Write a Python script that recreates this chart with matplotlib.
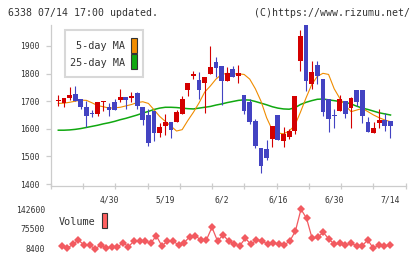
import matplotlib
matplotlib.use("Agg")
import matplotlib.pyplot as plt
from matplotlib.patches import Rectangle
import numpy as np

# ---------------- data ----------------
opens = [1700, 1695, 1712, 1726, 1707, 1678, 1658, 1654, 1698, 1678,
         1696, 1704, 1714, 1710, 1729, 1678, 1650, 1666, 1584, 1610,
         1626, 1626, 1653, 1741, 1792, 1777, 1765, 1797, 1842, 1828,
         1774, 1817, 1791, 1722, 1698, 1628, 1532, 1526, 1562, 1650,
         1557, 1569, 1592, 1847, 1990, 1762, 1831, 1780, 1707, 1650,
         1666, 1700, 1674, 1741, 1741, 1626, 1586, 1620, 1632, 1628]
closes = [1700, 1710, 1722, 1702, 1678, 1647, 1655, 1698, 1700, 1668,
          1668, 1714, 1704, 1720, 1684, 1632, 1550, 1584, 1608, 1626,
          1596, 1662, 1708, 1765, 1799, 1741, 1789, 1825, 1821, 1774,
          1803, 1789, 1803, 1666, 1626, 1538, 1466, 1493, 1610, 1559,
          1581, 1592, 1719, 1936, 1774, 1807, 1791, 1662, 1634, 1646,
          1708, 1652, 1710, 1698, 1648, 1590, 1602, 1632, 1611, 1611]
highs = [1722, 1710, 1752, 1755, 1707, 1702, 1668, 1698, 1700, 1692,
         1708, 1743, 1714, 1734, 1734, 1678, 1670, 1666, 1620, 1655,
         1626, 1668, 1718, 1765, 1810, 1807, 1789, 1900, 1861, 1828,
         1825, 1829, 1832, 1722, 1707, 1636, 1532, 1559, 1610, 1650,
         1605, 1601, 1719, 1958, 1995, 1846, 1847, 1780, 1707, 1671,
         1721, 1700, 1716, 1741, 1741, 1642, 1624, 1671, 1656, 1628]
lows = [1683, 1680, 1705, 1702, 1671, 1608, 1644, 1648, 1666, 1648,
        1668, 1696, 1672, 1698, 1672, 1614, 1538, 1557, 1572, 1578,
        1565, 1626, 1653, 1718, 1781, 1708, 1656, 1797, 1789, 1686,
        1774, 1789, 1767, 1652, 1616, 1532, 1439, 1487, 1535, 1559,
        1535, 1562, 1580, 1811, 1738, 1743, 1761, 1646, 1590, 1604,
        1666, 1640, 1604, 1683, 1622, 1590, 1586, 1604, 1592, 1568]
ma5 = [1692, 1693, 1696, 1700, 1704, 1703, 1694, 1684, 1680, 1675,
       1676, 1678, 1683, 1688, 1695, 1698, 1692, 1669, 1645, 1627,
       1610, 1592, 1597, 1630, 1660, 1694, 1733, 1755, 1780, 1797,
       1801, 1799, 1799, 1797, 1780, 1745, 1700, 1640, 1596, 1585,
       1582, 1592, 1612, 1660, 1712, 1760, 1790, 1801, 1797, 1745,
       1710, 1684, 1662, 1668, 1674, 1662, 1650, 1640, 1632, 1626]
ma25 = [1595, 1595, 1596, 1598, 1601, 1605, 1609, 1613, 1618, 1622,
        1627, 1633, 1638, 1644, 1650, 1657, 1663, 1670, 1675, 1678,
        1678, 1677, 1675, 1673, 1672, 1675, 1678, 1681, 1686, 1690,
        1695, 1699, 1703, 1705, 1704, 1699, 1693, 1687, 1680, 1675,
        1672, 1671, 1676, 1688, 1696, 1702, 1707, 1708, 1705, 1702,
        1699, 1696, 1690, 1682, 1675, 1670, 1664, 1658, 1654, 1650]
volume = [16250, 8400, 22060, 36740, 19670, 19670, 6000, 19670, 8400, 13860,
          11810, 27520, 13860, 33330, 33330, 33330, 25470, 51430, 16250, 33330,
          33330, 19670, 27520, 48010, 51430, 36740, 36740, 80110, 33330, 53820,
          33330, 22060, 17280, 42550, 22060, 36740, 34350, 22060, 27520, 22060,
          19670, 33330, 67480, 141580, 110850, 42550, 45960, 63040, 40160, 22060,
          25470, 19670, 25470, 17280, 17280, 36740, 8400, 19670, 16250, 19670]
date_labels = ["4/30", "5/19", "6/2", "6/16", "6/30", "7/14"]
date_label_idx = [9, 19, 29, 39, 49, 59]
price_ticks = [1400, 1500, 1600, 1700, 1800, 1900]
vol_ticks = [8400, 75500, 142600]
vol_tick_labels = ["8400", "75500", "142600"]

# ---------------- style ----------------
RED = "#d40000"
BLUE = "#4343c2"
ORANGE = "#f08c00"
GREEN = "#10a810"
VOLC = "#f25a60"
GRID = "#cccccc"
TXT = "#333333"
MONO = "DejaVu Sans Mono"

W, H = 420, 259
fig = plt.figure(figsize=(W / 100, H / 100), dpi=100)

def frac(l, t, r, b):
    return [l / W, 1 - b / H, (r - l) / W, (b - t) / H]

ax = fig.add_axes(frac(50.7, 25, 405.7, 185.7))
xs = np.arange(len(opens))
ax.set_xlim(-1.35, 61.7)
ax.set_ylim(1394, 1976)

ax.plot(xs, ma25, color=GREEN, lw=1.1, zorder=2)
ax.plot(xs, ma5, color=ORANGE, lw=0.8, zorder=2)

o = np.array(opens); c = np.array(closes)
cols = [RED if cc >= oo else BLUE for oo, cc in zip(o, c)]
ax.vlines(xs, lows, highs, colors=cols, lw=0.8, zorder=3)
bottoms = np.minimum(o, c)
heights = np.maximum(np.abs(c - o), 3.6)
ax.bar(xs, heights, bottom=bottoms, width=0.85, color=cols, zorder=4,
       linewidth=0)

for s in ["top", "right"]:
    ax.spines[s].set_visible(False)
for s in ["left", "bottom"]:
    ax.spines[s].set_color(GRID)
    ax.spines[s].set_linewidth(0.9)

ax.set_yticks(price_ticks)
ax.set_yticklabels([str(v) for v in price_ticks], fontfamily=MONO,
                   fontsize=5.8, color=TXT)
ax.tick_params(axis="y", length=3.6, width=0.9, color=GRID, pad=4.6)

ax.set_xticks(date_label_idx)
ax.set_xticklabels(date_labels, fontfamily=MONO, fontsize=5.8, color=TXT)
ax.tick_params(axis="x", which="major", length=0, pad=7)
xl = ax.get_xlim()
ax.set_xticks(np.linspace(xl[0], xl[1] - 1e-6, 12), minor=True)
ax.tick_params(axis="x", which="minor", length=4.8, width=0.9, color=GRID,
               direction="inout")

# legend box
fig.patches.append(Rectangle((65 / W, 1 - 77.3 / H), 78.3 / W, 47.3 / H,
                             transform=fig.transFigure, facecolor="white",
                             edgecolor="#d8d8d8", lw=1.5, zorder=10))
fig.text(125 / W, 1 - 46 / H, "5-day MA", ha="right", va="center",
         fontfamily=MONO, fontsize=7.3, color=TXT, zorder=11)
fig.text(125 / W, 1 - 63.3 / H, "25-day MA", ha="right", va="center",
         fontfamily=MONO, fontsize=7.3, color=TXT, zorder=11)
fig.patches.append(Rectangle((131 / W, 1 - 52.7 / H), 5.7 / W, 15 / H,
                             transform=fig.transFigure, facecolor=ORANGE,
                             edgecolor="#333333", lw=0.8, zorder=11))
fig.patches.append(Rectangle((131 / W, 1 - 69.3 / H), 5.7 / W, 15 / H,
                             transform=fig.transFigure, facecolor=GREEN,
                             edgecolor="#333333", lw=0.8, zorder=11))

# header texts
fig.text(8 / W, 1 - 13.3 / H, "6338 07/14 17:00 updated.", ha="left",
         va="center", fontfamily=MONO, fontsize=7.1, color=TXT)
fig.text(410 / W, 1 - 13.3 / H, "(C)https://www.rizumu.net/", ha="right",
         va="center", fontfamily=MONO, fontsize=7.1, color=TXT)

# ---------------- volume ----------------
axv = fig.add_axes(frac(50.7, 205, 405.7, 252))
axv.set_xlim(-1.98, 61.82)
axv.set_ylim(-4235, 156260)
axv.plot(xs, volume, color=VOLC, lw=0.9, marker="D", ms=3.6,
         markeredgewidth=0, zorder=3)
for s in axv.spines.values():
    s.set_visible(False)
axv.set_xticks([])
axv.set_yticks(vol_ticks)
axv.set_yticklabels(vol_tick_labels, fontfamily=MONO, fontsize=5.8, color=TXT)
axv.tick_params(axis="y", length=0, pad=4)

fig.text(58.3 / W, 1 - 221.7 / H, "Volume", ha="left", va="center",
         fontfamily=MONO, fontsize=7.3, color=TXT)
fig.patches.append(Rectangle((101.7 / W, 1 - 228.3 / H), 5.6 / W, 15 / H,
                             transform=fig.transFigure, facecolor="#ff6060",
                             edgecolor="#333333", lw=0.8, zorder=11))

fig.savefig("out.png", dpi=100)
